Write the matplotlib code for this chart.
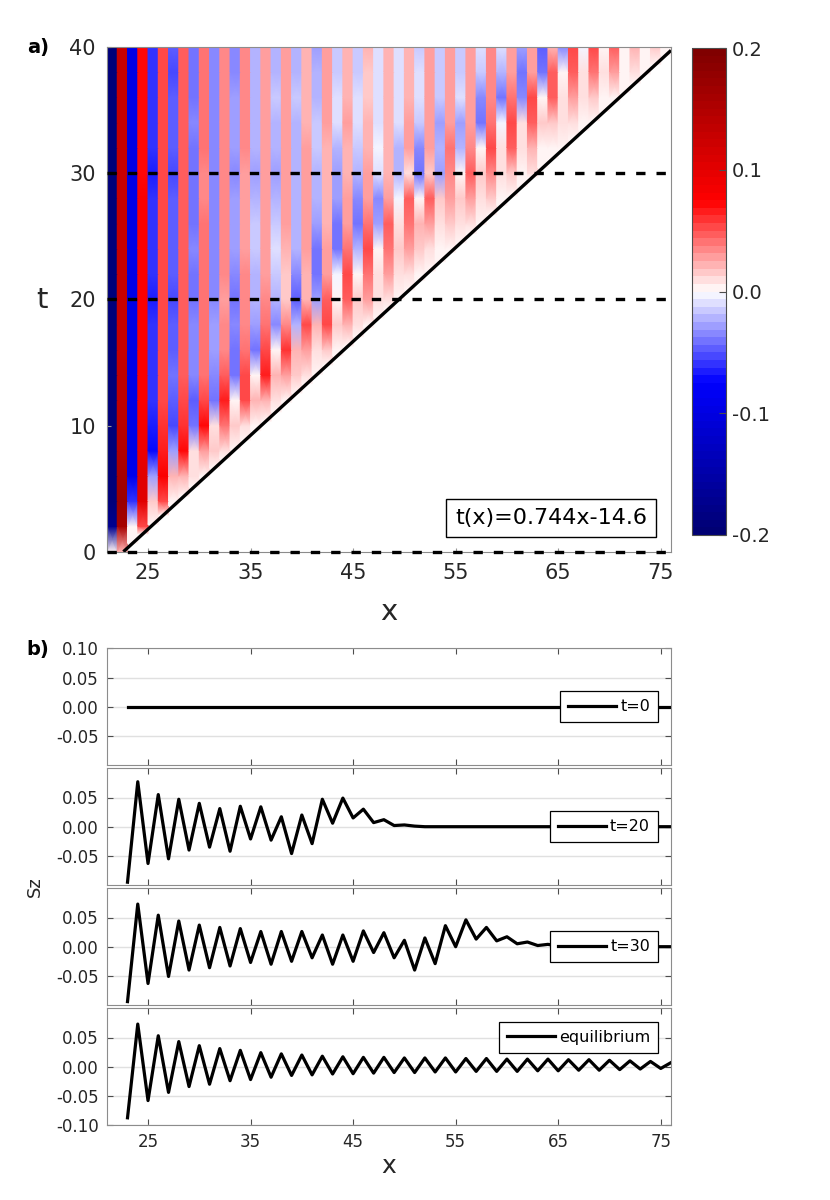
import numpy as np
import matplotlib
matplotlib.use('Agg')
import matplotlib.pyplot as plt
from matplotlib.colors import LinearSegmentedColormap
from matplotlib.ticker import FormatStrFormatter

plt.rcParams['font.family'] = ['DejaVu Sans']
plt.rcParams['axes.unicode_minus'] = False

# ---------------- data ----------------
# heatmap: sites x (cell spans x..x+1), times t = 0, 2, ..., 40
x_sites = np.arange(21, 76)
t_grid = np.arange(0, 41, 2)

# Sz(x, t) in units of 1e-3, one list per site, ordered t = 0, 2, ..., 40
sz_cols = [
    [0, -170, -190, -190, -190, -190, -190, -190, -190, -190, -190, -190, -190, -190, -190, -190, -190, -190, -190, -190, -190],  # 21
    [20, 160, 170, 160, 145, 140, 135, 135, 130, 130, 130, 130, 130, 130, 130, 130, 130, 130, 130, 130, 130],  # 22
    [0, 0, -60, -90, -95, -95, -95, -95, -95, -95, -95, -95, -95, -95, -95, -94, -95, -95, -95, -95, -95],  # 23
    [0, 50, 100, 100, 90, 85, 80, 78, 77, 77, 77, 75, 75, 75, 75, 73, 73, 73, 73, 73, 73],  # 24
    [0, 0, 15, -30, -75, -65, -60, -60, -60, -62, -63, -62, -62, -62, -62, -63, -62, -62, -62, -62, -62],  # 25
    [0, 0, 50, 75, 65, 58, 55, 55, 55, 55, 55, 54, 54, 54, 54, 54, 54, 54, 54, 54, 54],  # 26
    [0, 0, 5, 20, -30, -55, -45, -42, -45, -50, -55, -50, -48, -48, -50, -51, -50, -48, -50, -52, -50],  # 27
    [0, 0, 0, 20, 70, 60, 50, 45, 45, 45, 47, 45, 45, 44, 44, 44, 44, 45, 44, 44, 44],  # 28
    [0, 0, 0, 10, 10, -40, -50, -35, -35, -35, -40, -38, -36, -38, -40, -40, -38, -36, -38, -40, -38],  # 29
    [0, 0, 0, 5, 30, 70, 50, 40, 40, 40, 40, 38, 38, 38, 37, 37, 38, 40, 38, 38, 38],  # 30
    [0, 0, 0, 0, 15, 10, -40, -35, -30, -30, -35, -33, -32, -32, -34, -36, -34, -32, -33, -35, -34],  # 31
    [0, 0, 0, 0, 10, 40, 65, 45, 35, 33, 31, 32, 34, 33, 32, 33, 34, 33, 34, 35, 34],  # 32
    [0, 0, 0, 0, 0, 15, 0, -40, -38, -35, -42, -35, -30, -28, -30, -33, -28, -26, -30, -32, -34],  # 33
    [0, 0, 0, 0, 0, 10, 50, 55, 40, 35, 35, 34, 30, 25, 30, 31, 32, 33, 34, 32, 33],  # 34
    [0, 0, 0, 0, 0, 5, 20, 5, -40, -30, -21, -22, -18, -15, -22, -27, -25, -22, -20, -22, -24],  # 35
    [0, 0, 0, 0, 0, 0, 20, 65, 50, 40, 34, 30, 28, 27, 26, 26, 27, 28, 28, 28, 28],  # 36
    [0, 0, 0, 0, 0, 0, 10, 20, 0, -35, -23, -15, -12, -15, -25, -30, -25, -20, -18, -22, -22],  # 37
    [0, 0, 0, 0, 0, 0, 5, 30, 60, 35, 17, 18, 20, 25, 28, 26, 28, 30, 30, 28, 27],  # 38
    [0, 0, 0, 0, 0, 0, 0, 15, 20, -20, -46, -35, -25, -20, -20, -25, -22, -20, -18, -20, -22],  # 39
    [0, 0, 0, 0, 0, 0, 0, 10, 30, 55, 20, 22, 25, 26, 25, 26, 25, 24, 22, 23, 24],  # 40
    [0, 0, 0, 0, 0, 0, 0, 0, 10, 20, -29, -40, -40, -30, -22, -19, -15, -18, -20, -25, -28],  # 41
    [0, 0, 0, 0, 0, 0, 0, 0, 15, 50, 47, 30, 25, 24, 22, 20, 22, 25, 26, 28, 28],  # 42
    [0, 0, 0, 0, 0, 0, 0, 0, 5, 15, 6, -5, -38, -38, -28, -30, -20, -12, -10, -15, -18],  # 43
    [0, 0, 0, 0, 0, 0, 0, 0, 0, 20, 49, 55, 38, 30, 25, 20, 22, 25, 24, 22, 22],  # 44
    [0, 0, 0, 0, 0, 0, 0, 0, 0, 10, 15, 5, -22, -38, -32, -25, -15, -10, -12, -15, -16],  # 45
    [0, 0, 0, 0, 0, 0, 0, 0, 0, 5, 27, 38, 50, 40, 30, 27, 22, 20, 18, 18, 20],  # 46
    [0, 0, 0, 0, 0, 0, 0, 0, 0, 0, 7, 12, 5, -30, -35, -10, -5, -8, -10, -8, -10],  # 47
    [0, 0, 0, 0, 0, 0, 0, 0, 0, 0, 11, 25, 38, 45, 30, 24, 20, 20, 22, 20, 20],  # 48
    [0, 0, 0, 0, 0, 0, 0, 0, 0, 0, 0, 10, 15, 10, -5, -19, -22, -12, -8, -8, -10],  # 49
    [0, 0, 0, 0, 0, 0, 0, 0, 0, 0, 0, 10, 25, 42, 45, 11, 28, 25, 22, 20, 22],  # 50
    [0, 0, 0, 0, 0, 0, 0, 0, 0, 0, 0, 5, 15, 20, 5, -40, -35, -15, -10, -12, -18],  # 51
    [0, 0, 0, 0, 0, 0, 0, 0, 0, 0, 0, 0, 10, 25, 45, 15, 25, 30, 28, 25, 25],  # 52
    [0, 0, 0, 0, 0, 0, 0, 0, 0, 0, 0, 0, 5, 10, 15, -29, -25, -30, -15, -15, -18],  # 53
    [0, 0, 0, 0, 0, 0, 0, 0, 0, 0, 0, 0, 3, 15, 25, 36, 40, 25, 28, 30, 30],  # 54
    [0, 0, 0, 0, 0, 0, 0, 0, 0, 0, 0, 0, 0, 10, 15, 0, -25, -28, -10, -15, -18],  # 55
    [0, 0, 0, 0, 0, 0, 0, 0, 0, 0, 0, 0, 0, 8, 30, 46, 35, 28, 25, 27, 28],  # 56
    [0, 0, 0, 0, 0, 0, 0, 0, 0, 0, 0, 0, 0, 2, 10, 13, 0, -38, -35, -15, -12],  # 57
    [0, 0, 0, 0, 0, 0, 0, 0, 0, 0, 0, 0, 0, 0, 15, 33, 50, 40, 35, 33, 34],  # 58
    [0, 0, 0, 0, 0, 0, 0, 0, 0, 0, 0, 0, 0, 0, 5, 10, 10, -5, -38, -25, -10],  # 59
    [0, 0, 0, 0, 0, 0, 0, 0, 0, 0, 0, 0, 0, 0, 0, 17, 45, 55, 40, 30, 30],  # 60
    [0, 0, 0, 0, 0, 0, 0, 0, 0, 0, 0, 0, 0, 0, 0, 5, 10, 8, -35, -40, -30],  # 61
    [0, 0, 0, 0, 0, 0, 0, 0, 0, 0, 0, 0, 0, 0, 0, 8, 20, 45, 50, 30, 28],  # 62
    [0, 0, 0, 0, 0, 0, 0, 0, 0, 0, 0, 0, 0, 0, 0, 0, 4, 15, 5, -40, -45],  # 63
    [0, 0, 0, 0, 0, 0, 0, 0, 0, 0, 0, 0, 0, 0, 0, 0, 4, 18, 45, 45, 22],  # 64
    [0, 0, 0, 0, 0, 0, 0, 0, 0, 0, 0, 0, 0, 0, 0, 0, 1, 10, 12, 0, -35],  # 65
    [0, 0, 0, 0, 0, 0, 0, 0, 0, 0, 0, 0, 0, 0, 0, 0, 0, 10, 30, 48, 50],  # 66
    [0, 0, 0, 0, 0, 0, 0, 0, 0, 0, 0, 0, 0, 0, 0, 0, 0, 2, 8, 10, -5],  # 67
    [0, 0, 0, 0, 0, 0, 0, 0, 0, 0, 0, 0, 0, 0, 0, 0, 0, 0, 15, 40, 55],  # 68
    [0, 0, 0, 0, 0, 0, 0, 0, 0, 0, 0, 0, 0, 0, 0, 0, 0, 0, 3, 8, 3],  # 69
    [0, 0, 0, 0, 0, 0, 0, 0, 0, 0, 0, 0, 0, 0, 0, 0, 0, 0, 2, 25, 45],  # 70
    [0, 0, 0, 0, 0, 0, 0, 0, 0, 0, 0, 0, 0, 0, 0, 0, 0, 0, 0, 3, 5],  # 71
    [0, 0, 0, 0, 0, 0, 0, 0, 0, 0, 0, 0, 0, 0, 0, 0, 0, 0, 0, 10, 22],  # 72
    [0, 0, 0, 0, 0, 0, 0, 0, 0, 0, 0, 0, 0, 0, 0, 0, 0, 0, 0, 0, 3],  # 73
    [0, 0, 0, 0, 0, 0, 0, 0, 0, 0, 0, 0, 0, 0, 0, 0, 0, 0, 0, 0, 15],  # 74
    [0, 0, 0, 0, 0, 0, 0, 0, 0, 0, 0, 0, 0, 0, 0, 0, 0, 0, 0, 0, 3],  # 75
]

# light cone t(x) drawn in panel a)
cone_slope = 0.744
cone_x0 = 22.6
cone_label = 't(x)=0.744x-14.6'
dashed_t = [0, 20, 30]

# line cuts, x = 23 ... 76
x_line = np.arange(23, 77)
sz_t0 = [0.0] * 54
sz_t20 = [-0.095, 0.077, -0.063, 0.055, -0.055, 0.047, -0.040, 0.040, -0.035, 0.031,
          -0.042, 0.035, -0.021, 0.034, -0.023, 0.017, -0.046, 0.020, -0.029, 0.047,
          0.006, 0.049, 0.015, 0.030, 0.007, 0.012, 0.002, 0.003, 0.001, 0.0,
          0.0, 0.0, 0.0, 0.0, 0.0, 0.0, 0.0, 0.0, 0.0, 0.0,
          0.0, 0.0, 0.0, 0.0, 0.0, 0.0, 0.0, 0.0, 0.0, 0.0,
          0.0, 0.0, 0.0, 0.0]
sz_t30 = [-0.094, 0.073, -0.063, 0.054, -0.051, 0.044, -0.040, 0.037, -0.036, 0.033,
          -0.033, 0.031, -0.027, 0.026, -0.030, 0.026, -0.025, 0.026, -0.019, 0.020,
          -0.030, 0.020, -0.025, 0.027, -0.010, 0.024, -0.019, 0.011, -0.040, 0.015,
          -0.029, 0.036, 0.000, 0.046, 0.013, 0.033, 0.010, 0.017, 0.005, 0.008,
          0.002, 0.004, 0.001, 0.001, 0.0, 0.0, 0.0, 0.0, 0.0, 0.0,
          0.0, 0.0, 0.0, 0.0]
sz_eq = [-0.0875, 0.073, -0.058, 0.053, -0.044, 0.043, -0.034, 0.036, -0.030, 0.031,
         -0.024, 0.028, -0.022, 0.024, -0.018, 0.022, -0.015, 0.020, -0.014, 0.018,
         -0.0125, 0.017, -0.012, 0.016, -0.011, 0.016, -0.010, 0.015, -0.010, 0.015,
         -0.009, 0.015, -0.009, 0.014, -0.008, 0.014, -0.008, 0.013, -0.008, 0.013,
         -0.007, 0.013, -0.007, 0.012, -0.006, 0.012, -0.006, 0.011, -0.005, 0.010,
         -0.004, 0.009, -0.003, 0.007]
cut_labels = ['t=0', 't=20', 't=30', 'equilibrium']

# ---------------- figure ----------------
W, H = 830, 1200
fig = plt.figure(figsize=(W / 100, H / 100), dpi=100)

def px_axes(x0, y0, x1, y1):
    # axes from pixel box (top-left origin)
    return fig.add_axes([x0 / W, 1 - y1 / H, (x1 - x0) / W, (y1 - y0) / H])

cmap = LinearSegmentedColormap.from_list(
    'bwr_oct',
    [(0.0, (0.0, 0.0, 0.45)), (0.3125, (0.0, 0.0, 1.0)), (0.5, (1.0, 1.0, 1.0)),
     (0.6875, (1.0, 0.0, 0.0)), (1.0, (0.5, 0.0, 0.0))], N=64)

frame_col = '0.55'
tick_col = '0.15'

# ---- panel a ----
ax = px_axes(107, 47, 671, 551.7)
sz = np.array(sz_cols, dtype=float).T / 1000.0
t_front = np.clip(cone_slope * (x_sites + 0.5 - cone_x0), 0, None)
xe = np.column_stack([x_sites, x_sites + 1]).ravel()
X = np.repeat(xe[None, :], len(t_grid), axis=0)
Y = np.maximum(t_grid[:, None], np.repeat(t_front, 2)[None, :])
C = np.repeat(sz, 2, axis=1)
mesh = ax.pcolormesh(X, Y, C, shading='gouraud', cmap=cmap, vmin=-0.2, vmax=0.2)

xc = np.linspace(cone_x0, 76, 50)
ax.plot(xc, cone_slope * (xc - cone_x0), color='k', lw=2.4, solid_capstyle='butt')
for tt in dashed_t:
    ax.axhline(tt, color='k', lw=2.4, linestyle=(0, (2.8, 3.3)), clip_on=False,
               zorder=4)

ax.text(64.3, 2.7, cone_label, ha='center', va='center', fontsize=16, zorder=5,
        bbox=dict(boxstyle='square,pad=0.4', fc='white', ec='black', lw=1.0))

ax.set_xlim(21, 76)
ax.set_ylim(0, 40)
ax.set_xticks([25, 35, 45, 55, 65, 75])
ax.set_yticks([0, 10, 20, 30, 40])
ax.tick_params(direction='in', length=3, color='0.6', labelsize=15,
               labelcolor=tick_col, pad=8)
for s in ax.spines.values():
    s.set_color(frame_col)
    s.set_linewidth(0.8)

# colorbar
cax = px_axes(692, 48, 726, 535)
cb = fig.colorbar(mesh, cax=cax, ticks=[-0.2, -0.1, 0.0, 0.1, 0.2])
cb.ax.yaxis.set_major_formatter(FormatStrFormatter('%.1f'))
cb.ax.tick_params(direction='in', length=5, color='0.3', labelsize=14,
                  labelcolor=tick_col, pad=4)
cb.outline.set_edgecolor('0.3')
cb.outline.set_linewidth(0.8)

fig.text(42 / W, 1 - 300 / H, 't', fontsize=21, ha='center', va='center',
         color='0.15')
fig.text(389 / W, 1 - 612 / H, 'x', fontsize=21, ha='center', va='center',
         color='0.15')
fig.text(38 / W, 1 - 47 / H, 'a)', fontsize=14, weight='bold', ha='center', va='center')

# ---- panel b ----
cuts = [sz_t0, sz_t20, sz_t30, sz_eq]
ytick_sets = [[-0.05, 0.0, 0.05, 0.10], [-0.05, 0.0, 0.05], [-0.05, 0.0, 0.05],
              [-0.10, -0.05, 0.0, 0.05]]
leg_anchor = [('center right', 0.5), ('center right', 0.5), ('center right', 0.5),
              ('upper right', 0.885)]
zero_px = 706.7
for k in range(4):
    z = zero_px + 120 * k
    a = px_axes(107, z - 58.4, 671, z + 58.4)
    a.plot(x_line, cuts[k], color='k', lw=2.3, label=cut_labels[k])
    a.set_xlim(21, 76)
    a.set_ylim(-0.1, 0.1)
    a.set_xticks([25, 35, 45, 55, 65, 75])
    a.set_yticks(ytick_sets[k])
    a.yaxis.set_major_formatter(FormatStrFormatter('%.2f'))
    a.yaxis.grid(True, color='0.88', lw=1.0)
    a.set_axisbelow(True)
    a.tick_params(direction='in', length=4, color='0.3', labelsize=12,
                  labelcolor=tick_col, top=True, right=True, pad=6)
    if k < 3:
        a.tick_params(labelbottom=False)
    for s in a.spines.values():
        s.set_color(frame_col)
        s.set_linewidth(0.8)
    loc, yy = leg_anchor[k]
    leg = a.legend(loc=loc, bbox_to_anchor=(0.977, yy), fontsize=11.5,
                   fancybox=False, framealpha=1, edgecolor='k',
                   handlelength=3.0, handletextpad=0.25, borderpad=0.5,
                   borderaxespad=0)
    leg.get_frame().set_linewidth(0.9)

fig.text(35 / W, 1 - 887 / H, 'Sz', fontsize=13, ha='center', va='center',
         rotation=90, color='0.15')
fig.text(389 / W, 1 - 1166 / H, 'x', fontsize=18, ha='center', va='center',
         color='0.15')
fig.text(38 / W, 1 - 650 / H, 'b)', fontsize=14, weight='bold', ha='center', va='center')

fig.savefig('out.png', dpi=100)
